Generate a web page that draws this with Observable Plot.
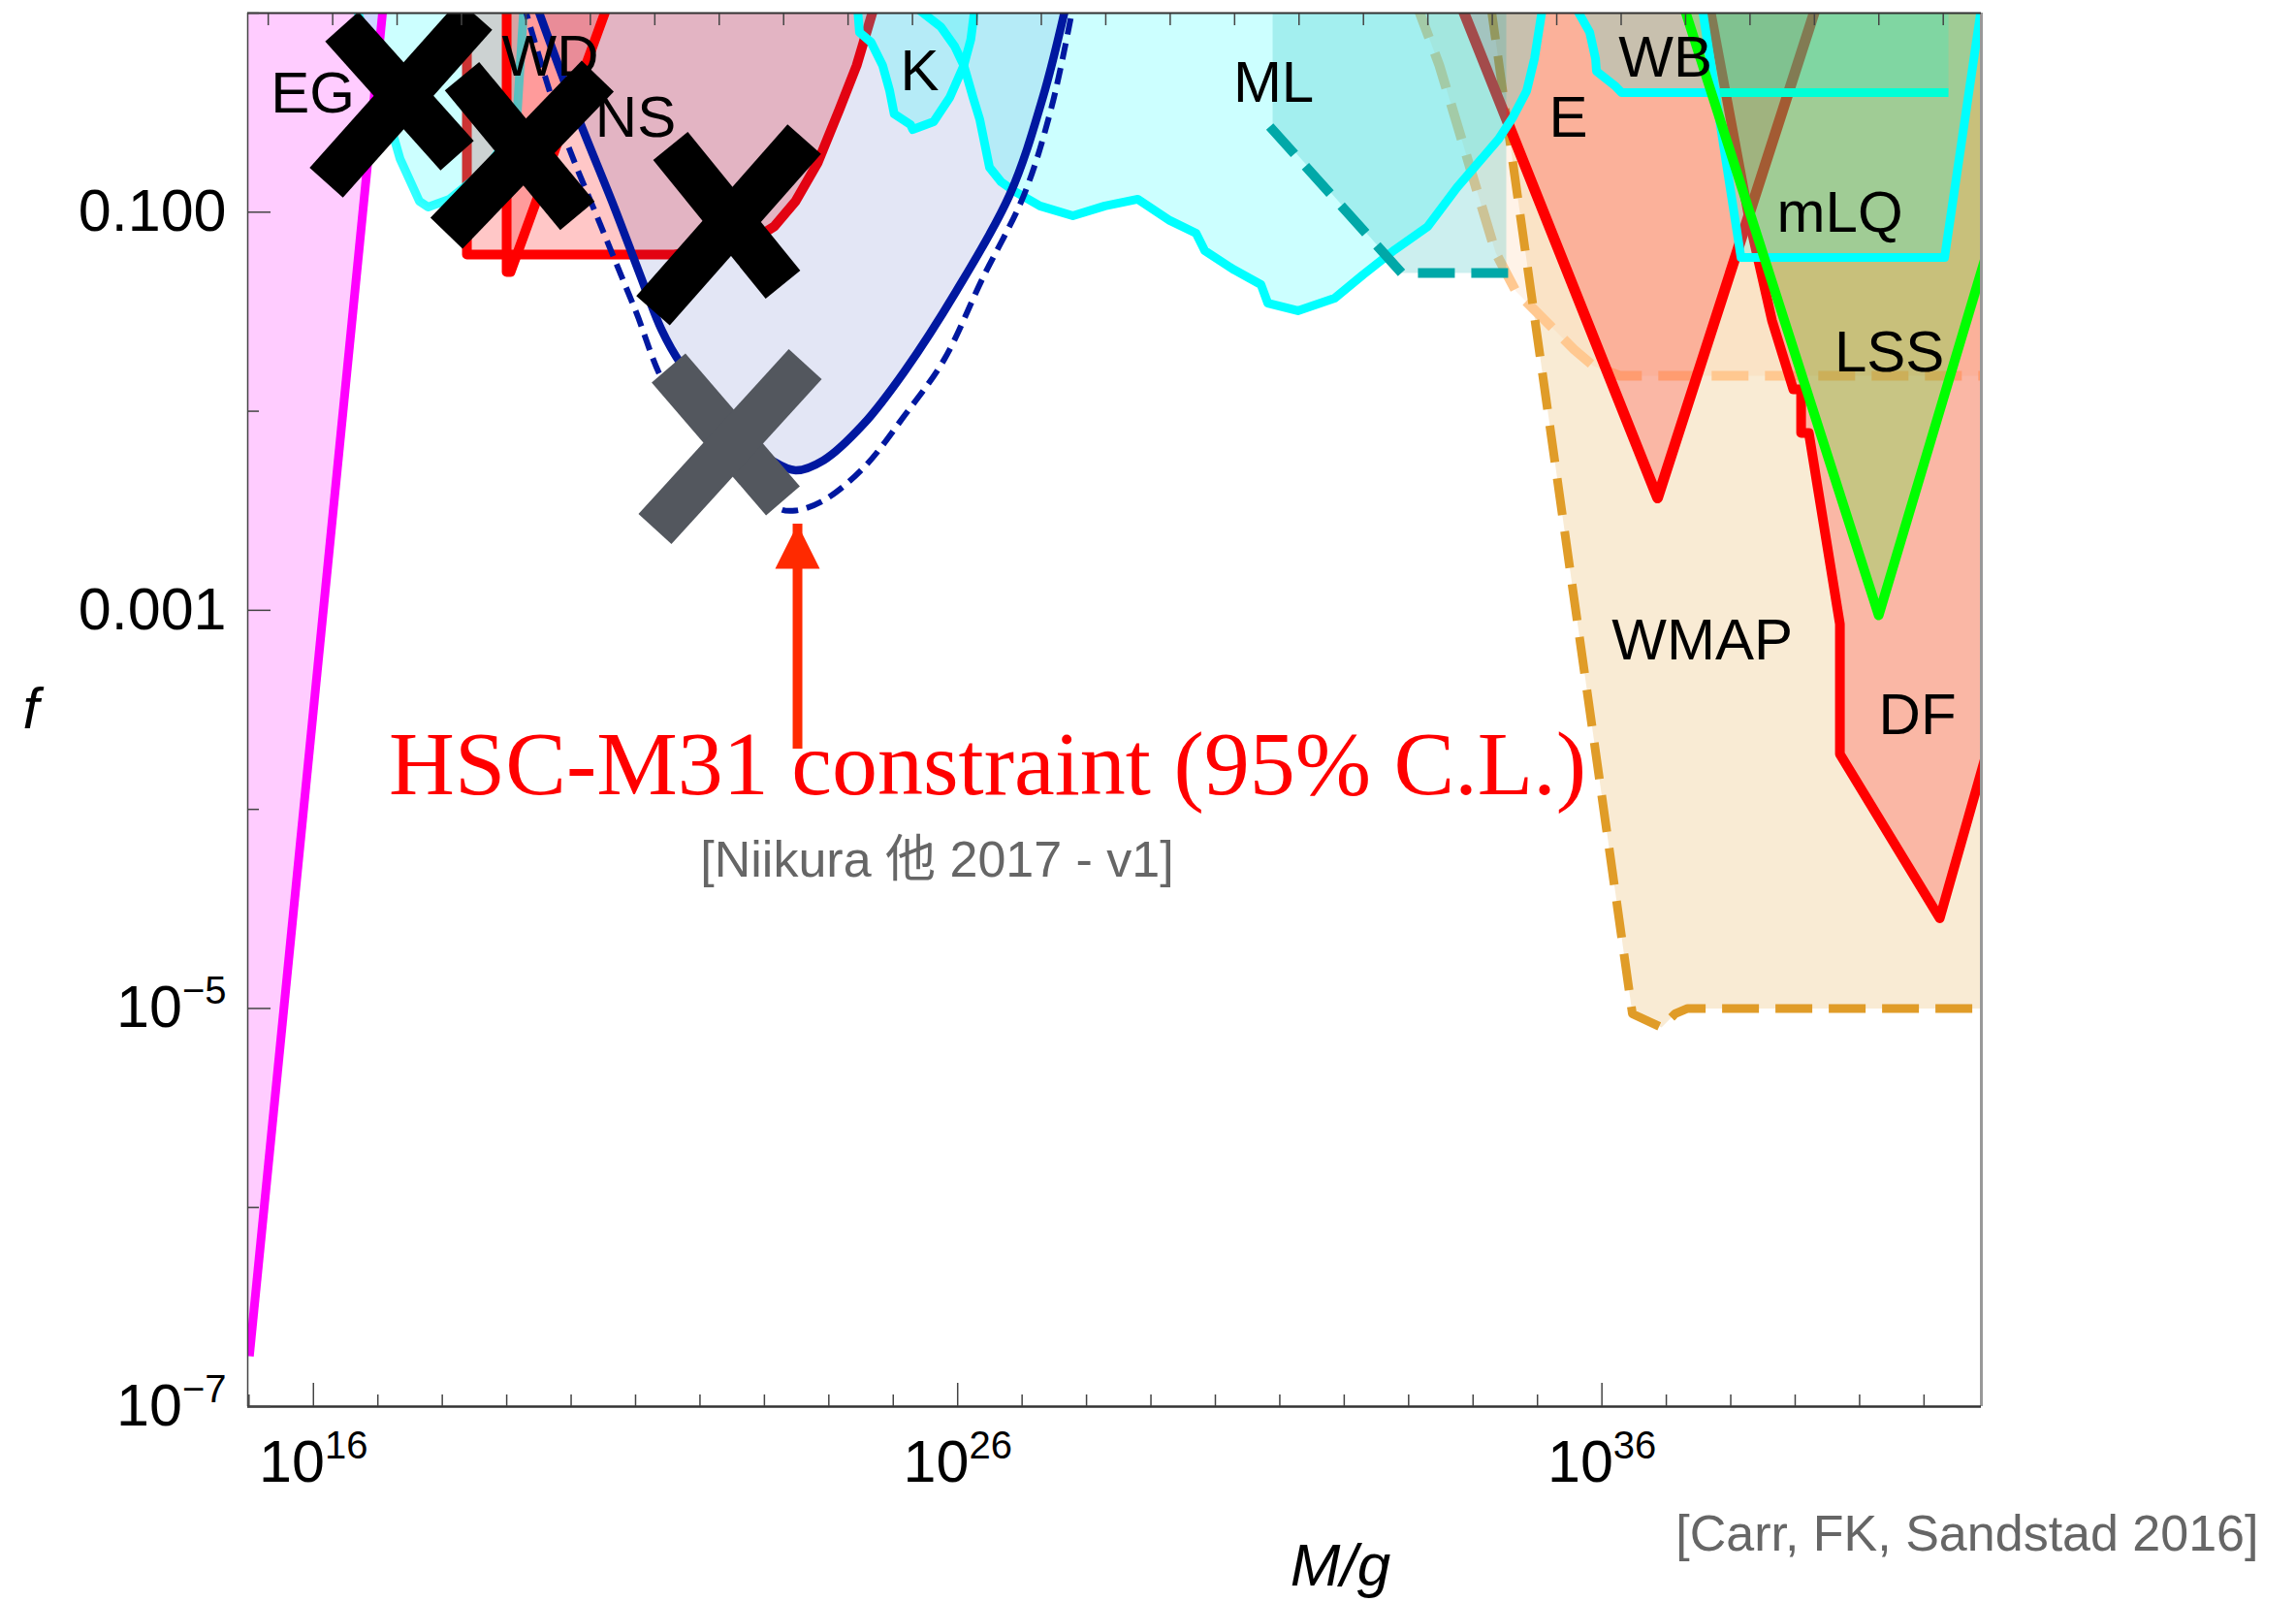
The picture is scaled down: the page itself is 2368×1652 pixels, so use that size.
<!DOCTYPE html>
<html>
<head>
<meta charset="utf-8">
<script src="https://cdn.jsdelivr.net/npm/d3@7"></script>
<script src="https://cdn.jsdelivr.net/npm/@observablehq/plot@0.6"></script>
<style>
  body { margin: 0; background: #fff; }
  svg { display: block; }
</style>
</head>
<body>
<div id="chart"></div>
<script>
// PBH abundance constraints f(M). All boundaries are [log10(M/g), log10 f].
const LOGM_DOMAIN = [14.98, 41.89];
const LOGF_DOMAIN = [-7, 0];
const LOG_MSUN = 33.2986; // top-frame ticks sit at decades of solar masses

const X_TICK_MAJOR = [16, 26, 36];
const X_TICK_LABELS = ["10^16", "10^26", "10^36"];
const Y_TICK_MAJOR = [-7, -5, -3, -1];
const Y_TICK_LABELS = ["10^−7", "10^−5", "0.001", "0.100"];
const Y_TICK_MINOR = [-6, -4, -2, 0];

// evaporation (extragalactic gamma rays)
const EG_BOUND = [[15.006, -6.747], [17.164, 0.3]];
// femtolensing
const FL_BOUND = [[16.651, 0.05], [17.343, -0.731], [17.644, -0.945], [17.780, -0.974], [18.111, -0.935],
  [18.667, -0.789], [19.044, -0.619], [19.164, -0.497], [19.270, 0.05]];
// neutron stars
const NS_BOUND = [[18.382, 0.05], [18.382, -1.213], [21.602, -1.213], [22.475, -1.169], [22.821, -1.140],
  [23.153, -1.072], [23.484, -0.945], [23.830, -0.750], [24.161, -0.487], [24.432, -0.263], [24.720, 0.05]];
// white dwarfs
const WD_BOUND = [[18.999, 0.05], [18.999, -1.301], [19.059, -1.301], [20.578, 0.05]];
// HSC-M31 microlensing, solid and dashed
const HSC_SOLID = [[19.45, 0.05], [20.063, -0.487], [20.668, -0.974], [21.070, -1.315], [21.407, -1.593],
  [21.702, -1.761], [22.250, -1.973], [22.792, -2.165], [23.108, -2.246], [23.484, -2.297], [23.920, -2.246],
  [24.537, -2.065], [25.169, -1.802], [25.976, -1.398], [26.810, -0.911], [27.322, -0.424], [27.69, 0.05]];
const HSC_DASHED = [[19.26, 0.05], [19.861, -0.585], [20.466, -1.072], [21.000, -1.495], [21.482, -1.883],
  [22.280, -2.202], [23.228, -2.489], [23.484, -2.499], [23.920, -2.448], [24.537, -2.285], [25.169, -2.024],
  [25.787, -1.742], [26.383, -1.335], [27.032, -0.911], [27.457, -0.473], [27.80, 0.05]];
// Kepler
const K_BOUND = [[24.440, 0.05], [24.476, -0.097], [24.655, -0.146], [24.835, -0.263], [24.944, -0.390],
  [25.015, -0.507], [25.267, -0.560], [25.303, -0.585], [25.627, -0.546], [25.877, -0.424], [26.095, -0.263],
  [26.204, -0.132], [26.276, 0.05]];
// microlensing (MACHO/EROS)
const ML_BOUND = [[25.267, 0.05], [25.735, -0.068], [25.952, -0.166], [26.095, -0.263], [26.238, -0.424],
  [26.344, -0.536], [26.494, -0.775], [26.675, -0.848], [26.885, -0.896], [27.277, -0.969], [27.788, -1.018],
  [28.285, -0.969], [28.797, -0.935], [29.294, -1.042], [29.700, -1.106], [29.835, -1.193], [30.272, -1.286],
  [30.708, -1.364], [30.814, -1.457], [31.280, -1.495], [31.852, -1.432], [32.289, -1.315], [32.785, -1.189],
  [33.297, -1.072], [33.749, -0.877], [34.396, -0.633], [34.622, -0.521], [34.833, -0.390], [34.953, -0.229],
  [35.089, 0.05]];
// microlensing, extended bound
const TEAL_REGION = [[30.889, 0.05], [30.889, -0.570], [32.891, -1.305], [34.516, -1.305], [34.516, 0.05]];
const TEAL_DASH = [[30.844, -0.570], [32.891, -1.305], [34.591, -1.305]];
// accretion: WMAP and the lighter FIRAS-type bound
const WMAP_BOUND = [[34.27, 0.05], [36.473, -5.027], [36.925, -5.095], [37.135, -5.027], [37.331, -5.0], [42.3, -5.0]];
const PEACH_BOUND = [[33.116, 0.05], [33.477, -0.263], [33.853, -0.667], [34.155, -0.994], [34.350, -1.203],
  [34.666, -1.398], [35.268, -1.593], [35.569, -1.690], [35.870, -1.773], [36.277, -1.822], [42.3, -1.822]];
// Eridanus, dynamical friction
const E_BOUND = [[33.80, 0.05], [36.864, -2.436], [39.343, 0.05]];
const DF_BOUND = [[37.662, 0.05], [38.309, -1.072], [38.640, -1.544], [38.971, -1.890], [39.092, -1.890],
  [39.092, -2.109], [39.212, -2.109], [39.694, -3.069], [39.694, -3.722], [41.244, -4.547], [41.891, -3.809],
  [42.147, -3.517]];
// wide binaries, millilensing of quasars, large-scale structure
const WB_BOUND = [[35.555, 0.05], [35.811, -0.097], [35.901, -0.229], [35.916, -0.292], [36.202, -0.365],
  [36.307, -0.40], [41.379, -0.40]];
const MLQ_BOUND = [[37.545, 0.05], [38.159, -1.228], [41.319, -1.228], [41.90, 0.05]];
const LSS_BOUND = [[37.255, 0.05], [40.296, -3.025], [42.147, -1.018]];

const REGION_LABELS = [
  {name: "EG", m: 15.988, f: -0.405}, {name: "WD", m: 19.676, f: -0.222}, {name: "NS", m: 21.000, f: -0.527},
  {name: "K", m: 25.410, f: -0.293}, {name: "ML", m: 30.904, f: -0.352}, {name: "E", m: 35.480, f: -0.527},
  {name: "WB", m: 36.985, f: -0.225}, {name: "mLQ", m: 39.694, f: -1.005}, {name: "LSS", m: 40.462, f: -1.706},
  {name: "WMAP", m: 37.557, f: -3.153}, {name: "DF", m: 40.898, f: -3.528}
];

const CROSSES_BLACK = [
  {m1: 16.440, f1: -0.068, m2: 18.231, f2: -0.716}, {m1: 18.517, f1: -0.010, m2: 16.199, f2: -0.852},
  {m1: 18.306, f1: -0.317, m2: 20.097, f2: -1.018}, {m1: 20.413, f1: -0.317, m2: 18.065, f2: -1.106},
  {m1: 21.542, f1: -0.667, m2: 23.288, f2: -1.364}, {m1: 23.619, f1: -0.633, m2: 21.271, f2: -1.495}
];
const CROSSES_GRAY = [
  {m1: 21.512, f1: -1.783, m2: 23.288, f2: -2.450}, {m1: 23.634, f1: -1.763, m2: 21.301, f2: -2.592}
];

const ARROW = [{m: 23.514, tip: -2.567, tail: -3.502}];
const HSC_NOTE = [{text: "HSC-M31 constraint (95% C.L.)", m: 26.464, f: -3.775}];
const NIIKURA_NOTE = [{text: "[Niikura 他 2017 - v1]", m: 25.681, f: -4.257}];

// ---- helpers -------------------------------------------------------------
const P = v => 10 ** v;
const TOP = 0.05, RIGHT = 42.5;
const xy = {x: d => P(d[0]), y: d => P(d[1])};

function area(pts, fill, fillOpacity, extra = {}) {
  return Plot.line(pts, {...xy, fill, fillOpacity, stroke: "none", clip: true, ...extra});
}
function edge(pts, stroke, strokeWidth, extra = {}) {
  return Plot.line(pts, {...xy, stroke, strokeWidth, strokeLinecap: "butt", strokeLinejoin: "round", clip: true, ...extra});
}
const last = a => a[a.length - 1];

// polygons closed through the frame's top/right edges
const EG_POLY = [[14.8, TOP], [14.8, EG_BOUND[0][1]], ...EG_BOUND];
const WMAP_POLY = [...WMAP_BOUND, [RIGHT, TOP]];
const PEACH_POLY = [...PEACH_BOUND, [RIGHT, TOP]];
const DF_POLY = [...DF_BOUND, [RIGHT, TOP]];
const WB_POLY = [...WB_BOUND, [last(WB_BOUND)[0], TOP]];
const LSS_POLY = [LSS_BOUND[0], LSS_BOUND[1], [43.3, TOP]];

const RED = "#ff0000", CYAN = "#00ffff";
const dashLong = "38,17";

const minorX = d3.range(15, 42).filter(k => !X_TICK_MAJOR.includes(k)).map(P);
const topTicks = d3.range(-18, 9).map(n => n + LOG_MSUN).filter(v => v > LOGM_DOMAIN[0] && v < LOGM_DOMAIN[1]).map(P);
const xLabelOf = d => X_TICK_LABELS[X_TICK_MAJOR.indexOf(Math.round(Math.log10(d)))];
const yLabelOf = d => Y_TICK_LABELS[Y_TICK_MAJOR.indexOf(Math.round(Math.log10(d)))];

const chart = Plot.plot({
  width: 2368,
  height: 1652,
  marginLeft: 255,
  marginRight: 325,
  marginTop: 13,
  marginBottom: 202,
  x: {type: "log", domain: LOGM_DOMAIN.map(P)},
  y: {type: "log", domain: LOGF_DOMAIN.map(P)},
  style: {fontFamily: "'Liberation Sans', Arial, Helvetica, sans-serif", background: "#fff", overflow: "visible"},
  marks: [
    // background fills
    area(EG_POLY, "#ff00ff", 0.2),
    area(WMAP_POLY, "#e19c2a", 0.2),
    area(PEACH_POLY, "#ffc896", 0.22),
    edge(PEACH_BOUND, "#ffc890", 10, {strokeDasharray: dashLong}),
    edge(WMAP_BOUND, "#e09c28", 9, {strokeDasharray: dashLong}),

    // neutron stars
    area(NS_BOUND, RED, 0.22),
    edge(NS_BOUND, RED, 10),

    // Eridanus and dynamical friction
    area(E_BOUND, RED, 0.22),
    area(DF_POLY, RED, 0.22),
    edge(E_BOUND, RED, 11),
    edge(DF_BOUND, RED, 10),

    // HSC region fill
    area(HSC_SOLID, "#001aa0", 0.11, {curve: "catmull-rom"}),

    // femtolensing
    area(FL_BOUND, CYAN, 0.2),
    edge(FL_BOUND, CYAN, 9, {strokeOpacity: 0.8}),

    // white dwarfs
    area(WD_BOUND, RED, 0.22),
    edge(WD_BOUND, RED, 10),

    // Kepler and microlensing
    area(K_BOUND, CYAN, 0.2),
    area(ML_BOUND, CYAN, 0.2),
    area(TEAL_REGION, "#00b0b0", 0.2),
    edge(K_BOUND, CYAN, 9),
    edge(ML_BOUND, CYAN, 9),
    edge(TEAL_DASH, "#00a8a8", 10, {strokeDasharray: dashLong}),

    // wide binaries
    area(WB_POLY, CYAN, 0.2),
    edge(WB_BOUND, CYAN, 9),

    // LSS and millilensing
    area(LSS_POLY, "#00ff00", 0.2),
    area(MLQ_BOUND, CYAN, 0.2),
    edge(MLQ_BOUND, CYAN, 9),
    edge(LSS_BOUND, "#00ff00", 10),

    // HSC curves
    edge(HSC_DASHED, "#0018a0", 6, {curve: "catmull-rom", strokeDasharray: "17,9"}),
    edge(HSC_SOLID, "#0018a0", 8.5, {curve: "catmull-rom"}),

    // evaporation line
    edge(EG_BOUND, "#ff00ff", 9),

    // region names
    Plot.text(REGION_LABELS, {x: d => P(d.m), y: d => P(d.f), text: "name", fontSize: 60, fill: "#000"}),

    // crossed-out bounds
    Plot.link(CROSSES_BLACK, {x1: d => P(d.m1), y1: d => P(d.f1), x2: d => P(d.m2), y2: d => P(d.f2),
      stroke: "#000", strokeWidth: 46, strokeLinecap: "butt", clip: true}),
    Plot.link(CROSSES_GRAY, {x1: d => P(d.m1), y1: d => P(d.f1), x2: d => P(d.m2), y2: d => P(d.f2),
      stroke: "#53575e", strokeWidth: 46, strokeLinecap: "butt", clip: true}),

    // annotation arrow and notes
    Plot.ruleX(ARROW, {x: d => P(d.m), y1: d => P(d.tail), y2: d => P(d.tip), stroke: "#ff2a00", strokeWidth: 10, insetTop: 40}),
    Plot.vector(ARROW, {x: d => P(d.m), y: d => P(d.tip), length: 46, r: 23, shape: "spike", anchor: "end",
      fill: "#ff2a00", stroke: "none"}),
    Plot.text(HSC_NOTE, {x: d => P(d.m), y: d => P(d.f), text: "text", fontSize: 94, fill: "#ff0000",
      fontFamily: "'Liberation Serif', 'Times New Roman', serif"}),
    Plot.text(NIIKURA_NOTE, {x: d => P(d.m), y: d => P(d.f), text: "text", fontSize: 52, fill: "#666",
      fontFamily: "'Liberation Sans', Arial, 'Noto Sans CJK JP', sans-serif"}),

    // frame
    Plot.ruleX([P(LOGM_DOMAIN[0])], {stroke: "#444", strokeWidth: 1.5}),
    Plot.ruleX([P(LOGM_DOMAIN[1])], {stroke: "#999", strokeWidth: 3}),
    Plot.ruleY([P(LOGF_DOMAIN[0])], {stroke: "#333", strokeWidth: 2.5}),
    Plot.ruleY([P(LOGF_DOMAIN[1])], {stroke: "#333", strokeWidth: 2}),

    // inward ticks
    Plot.axisX(minorX, {anchor: "bottom", tickSize: -12, fill: "none", stroke: "#444", strokeWidth: 1.5, label: null}),
    Plot.axisX(X_TICK_MAJOR.map(P), {anchor: "bottom", tickSize: -24, fill: "none", stroke: "#444", strokeWidth: 1.5, label: null}),
    Plot.axisX(topTicks, {anchor: "top", tickSize: -12, fill: "none", stroke: "#444", strokeWidth: 1.5, label: null}),
    Plot.axisY(Y_TICK_MINOR.map(P), {anchor: "left", tickSize: -12, fill: "none", stroke: "#444", strokeWidth: 1.5, label: null}),
    Plot.axisY(Y_TICK_MAJOR.map(P), {anchor: "left", tickSize: -24, fill: "none", stroke: "#444", strokeWidth: 1.5, label: null}),

    // tick labels
    Plot.axisX(X_TICK_MAJOR.map(P), {anchor: "bottom", tickSize: 0, tickPadding: 34, tickFormat: xLabelOf,
      fontSize: 61, fill: "#000", label: null}),
    Plot.axisY(Y_TICK_MAJOR.map(P), {anchor: "left", tickSize: 0, tickPadding: 22, tickFormat: yLabelOf,
      fontSize: 61, fill: "#000", label: null}),

    // axis titles and source
    Plot.text(["f"], {frameAnchor: "left", dx: -232, text: d => d, fontSize: 60, fontStyle: "italic", fill: "#000"}),
    Plot.text(["M/g"], {frameAnchor: "bottom", dx: 233, dy: 184, text: d => d, fontSize: 62, fontStyle: "italic", fill: "#000"}),
    Plot.text(["[Carr, FK, Sandstad 2016]"], {frameAnchor: "bottom-right", dx: 286, dy: 148, text: d => d,
      textAnchor: "end", fontSize: 52, fill: "#666"})
  ]
});

// turn "10^16" style tick labels into base + superscript
d3.select(chart).selectAll('g[aria-label$="tick label"] text').each(function () {
  const s = this.textContent;
  const i = s.indexOf("^");
  if (i < 0) return;
  const t = d3.select(this);
  t.text(s.slice(0, i));
  t.append("tspan").attr("dy", -24).attr("font-size", 40).text(s.slice(i + 1));
});

document.getElementById("chart").append(chart);
</script>
</body>
</html>
